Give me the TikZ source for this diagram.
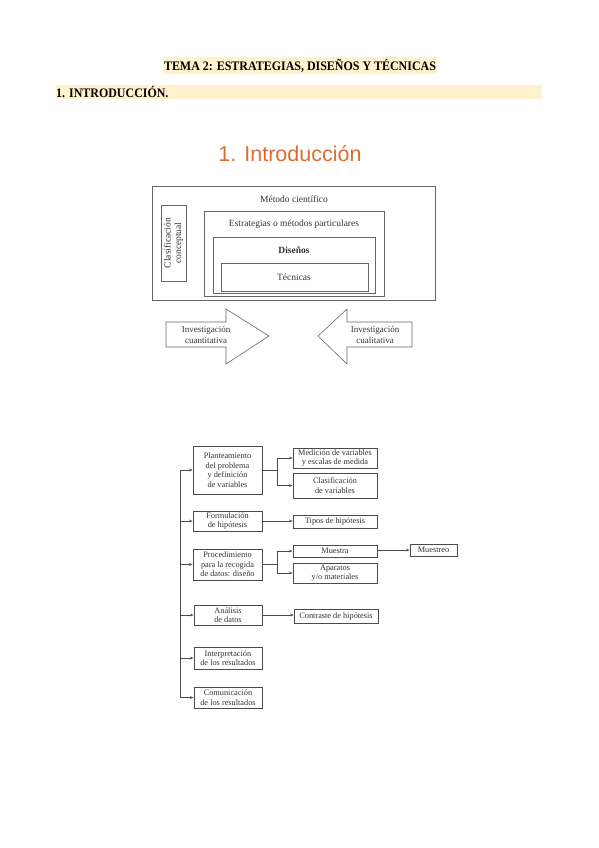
\documentclass[tikz,border=0pt]{standalone}
\usepackage{fontspec}
\setmainfont{Liberation Serif}
\newfontfamily\hdrfont[FakeStretch=0.92]{Liberation Serif}
\newfontfamily\titlefont{Liberation Sans}
\usetikzlibrary{arrows.meta}
\definecolor{hl}{RGB}{255,242,204}
\definecolor{ttl}{RGB}{220,108,48}
\definecolor{ink}{RGB}{75,75,75}
\definecolor{txt}{RGB}{50,50,50}
\begin{document}
\begin{tikzpicture}[x=1pt,y=-1pt,
  frame/.style={draw=ink!85, line width=0.7pt},
  fbox/.style={draw=ink, line width=0.7pt, inner sep=0pt, align=center, text=txt,
    font=\fontsize{8.3}{9.6}\selectfont},
  lbl/.style={inner sep=0pt, text=txt, font=\fontsize{9.5}{10.5}\selectfont, align=center},
  conn/.style={draw=ink, line width=0.6pt},
  arr/.style={conn, -{Stealth[length=3.5pt,width=2.6pt]}}]
\useasboundingbox (0,0) rectangle (599,848);
% header
\fill[hl] (163,57) rectangle (437,74);
\node[inner sep=0pt, font=\hdrfont\bfseries\fontsize{13}{15}\selectfont] (hdr) at (300,65.5) {TEMA 2: ESTRATEGIAS, DISEÑOS Y TÉCNICAS};
\fill[hl] (56,85) rectangle (542,99);
\node[inner sep=0pt, anchor=west, font=\hdrfont\bfseries\fontsize{13}{15}\selectfont] (sec) at (56,92.5) {1. INTRODUCCIÓN.};
% title
\node[inner sep=0pt, text=ttl, font=\titlefont\fontsize{21.5}{24}\selectfont] (ttl) at (290,154) {1. Introducción};
% nested boxes
\draw[frame] (152,186) rectangle (435,300);
\node[lbl] (metodo) at (294,199) {Método científico};
\node[frame, minimum width=25pt, minimum height=76pt, inner sep=0pt] (clas) at (173.5,243) {};
\node[lbl, rotate=90] at (clas.center) {Clasificación\\conceptual};
\draw[frame] (204,211) rectangle (384,296);
\node[lbl] (estr) at (294,224) {Estrategias o métodos particulares};
\draw[frame] (213,237) rectangle (375,293);
\node[lbl, font=\bfseries\fontsize{9.5}{10.5}\selectfont] (dis) at (294,250) {Diseños};
\draw[frame] (221,263) rectangle (368,291);
\node[lbl] (tec) at (294,277) {Técnicas};
% big arrows
\draw[frame, line width=0.6pt] (166,322) -- (226,322) -- (226,309) -- (269,336) -- (226,364) -- (226,347) -- (166,347) -- cycle;
\node[lbl, font=\fontsize{9}{10.5}\selectfont] (cuan) at (206,335) {Investigación\\cuantitativa};
\draw[frame, line width=0.6pt] (412,322) -- (347,322) -- (347,309) -- (318,336) -- (347,364) -- (347,347) -- (412,347) -- cycle;
\node[lbl, font=\fontsize{9}{10.5}\selectfont] (cual) at (375,335) {Investigación\\cualitativa};
% flow chart boxes
\node[fbox, minimum width=69pt, minimum height=48pt] (p1) at (227.5,470) {Planteamiento\\del problema\\y definición\\de variables};
\node[fbox, minimum width=69pt, minimum height=20pt] (p2) at (227.5,521) {Formulación\\de hipótesis};
\node[fbox, minimum width=69pt, minimum height=31pt] (p3) at (227.5,564.5) {Procedimiento\\para la recogida\\de datos: diseño};
\node[fbox, minimum width=68pt, minimum height=20pt] (p4) at (228,615) {Análisis\\de datos};
\node[fbox, minimum width=68pt, minimum height=22pt] (p5) at (228,658) {Interpretación\\de los resultados};
\node[fbox, minimum width=68pt, minimum height=21pt] (p6) at (228,697.5) {Comunicación\\de los resultados};
\node[fbox, minimum width=84pt, minimum height=20pt] (m1) at (335,458) {Medición de variables\\y escalas de medida};
\node[fbox, minimum width=84pt, minimum height=25pt] (m2) at (335,485.5) {Clasificación\\de variables};
\node[fbox, minimum width=84pt, minimum height=13pt] (t1) at (335,521.5) {Tipos de hipótesis};
\node[fbox, minimum width=84pt, minimum height=12pt] (s1) at (335,551) {Muestra};
\node[fbox, minimum width=84pt, minimum height=20pt] (s2) at (335,573) {Aparatos\\y/o materiales};
\node[fbox, minimum width=84pt, minimum height=14pt] (c1) at (336,616) {Contraste de hipótesis};
\node[fbox, minimum width=47pt, minimum height=12pt] (s3) at (433.5,550) {Muestreo};
% left trunk
\coordinate (vt) at (180,472);
\draw[conn] (p1.west -| vt) -- (p6.west -| vt);
\foreach \b in {p1,p2,p3,p4,p5,p6} \draw[arr] (\b.west -| vt) -- (\b.west);
% branches
\draw[conn] (p1.east) -- ++(15,0) coordinate (b1);
\draw[conn] (b1 |- m1.west) -- (b1 |- m2.west);
\draw[arr] (b1 |- m1.west) -- (m1.west);
\draw[arr] (b1 |- m2.west) -- (m2.west);
\draw[arr] (p2.east) -- (t1.west |- p2.east);
\draw[conn] (p3.east) -- ++(15,0) coordinate (b3);
\draw[conn] (b3 |- s1.west) -- (b3 |- s2.west);
\draw[arr] (b3 |- s1.west) -- (s1.west);
\draw[arr] (b3 |- s2.west) -- (s2.west);
\draw[arr] (s1.east |- s3.west) -- (s3.west);
\draw[arr] (p4.east) -- (c1.west |- p4.east);
\end{tikzpicture}
\end{document}
